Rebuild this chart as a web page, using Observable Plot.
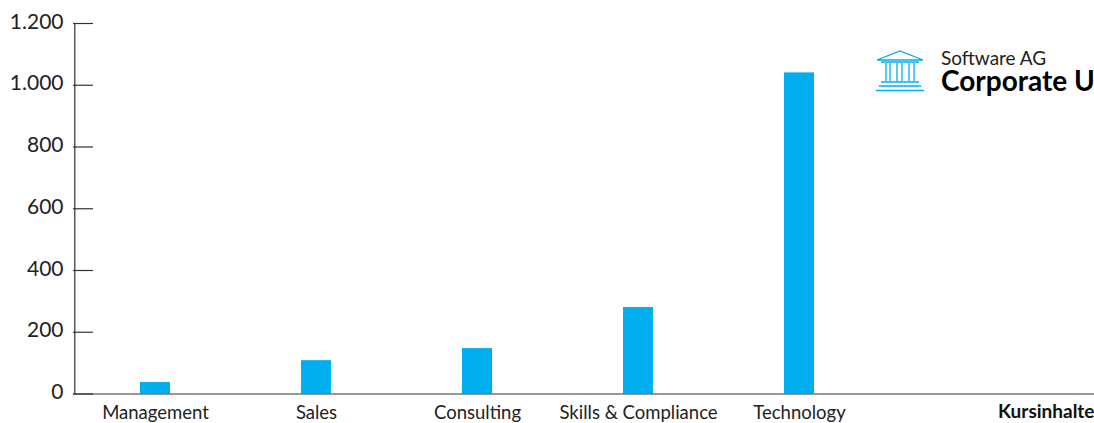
<!DOCTYPE html>
<html><head><meta charset="utf-8">
<script src="https://cdn.jsdelivr.net/npm/d3@7"></script>
<script src="https://cdn.jsdelivr.net/npm/@observablehq/plot@0.6"></script>
<style>
html,body{margin:0;padding:0;background:#fff;overflow:hidden}
#wrap{position:relative;width:1094px;height:423px;overflow:hidden}
#logo{position:absolute;left:0;top:0}
</style></head><body><div id="wrap"></div>
<script>
const categories = ["Management","Sales","Consulting","Skills & Compliance","Technology"];
const values = [37,108,147,280,1040];
const yTicks = [0,200,400,600,800,1000,1200];
const axisTitle = "Kursinhalte";
const fontFamily = "Lato, 'Noto Sans', sans-serif";
const rows = categories.map((c,i)=>({c,v:values[i]}));
const fmt = d => d3.format(",")(d).replace(/,/g,".");
const plot = Plot.plot({
  width:1094,height:423,marginLeft:73,marginRight:0,marginTop:23,marginBottom:29.5,
  style:{fontFamily,background:"#fff",color:"#222"},
  x:{domain:categories,range:[73,880],paddingInner:0.814,paddingOuter:0.407,align:0.5,label:null},
  y:{domain:[0,1200],range:[393.5,23],label:null},
  marks:[
    Plot.barY(rows,{x:"c",y:"v",fill:"#00adef"}),
    Plot.ruleX([0],{x:()=>categories[0],dx:-80.7,y1:0,y2:1200,stroke:"#333",strokeWidth:1.2}),
    Plot.ruleY([0],{stroke:"#333",strokeWidth:1.2}),
    Plot.axisY({ticks:yTicks,tickSize:-20,text:null,stroke:"#333",strokeOpacity:1,strokeWidth:1.2}),
    Plot.axisY({ticks:yTicks,tickFormat:fmt,tickSize:0,tickPadding:10,dy:-1.5,fontSize:21,fill:"#222"}),
    Plot.axisX({tickSize:0,tickPadding:12,fontSize:18.5,fill:"#222"}),
    Plot.text([axisTitle],{frameAnchor:"bottom-right",dy:24,text:d=>d,fontWeight:700,fontSize:19,fill:"#111"})
  ]
});
const wrap=document.getElementById("wrap");
wrap.appendChild(plot);
const ns="http://www.w3.org/2000/svg";
const logo=document.createElementNS(ns,"svg");
logo.setAttribute("id","logo");logo.setAttribute("width","1094");logo.setAttribute("height","423");
logo.innerHTML=`<g fill="none" stroke="#00adef" stroke-width="1.3">
<path d="M877 60 L900 51 L923 60 Z" fill="none"/>
<path d="M881 62H919"/>
<path d="M886 63V81M890 63V81M897 63V81M902 63V81M909 63V81M914 63V81"/>
<path d="M881 82H919"/><path d="M879 86H921"/><path d="M876 90.500H924"/></g>
<text x="941" y="65" font-family="Lato, sans-serif" font-size="19" fill="#222">Software AG</text>
<text x="941" y="91" font-family="Lato, sans-serif" font-size="28" font-weight="700" fill="#000">Corporate U</text>`;
wrap.appendChild(logo);
</script></body></html>
